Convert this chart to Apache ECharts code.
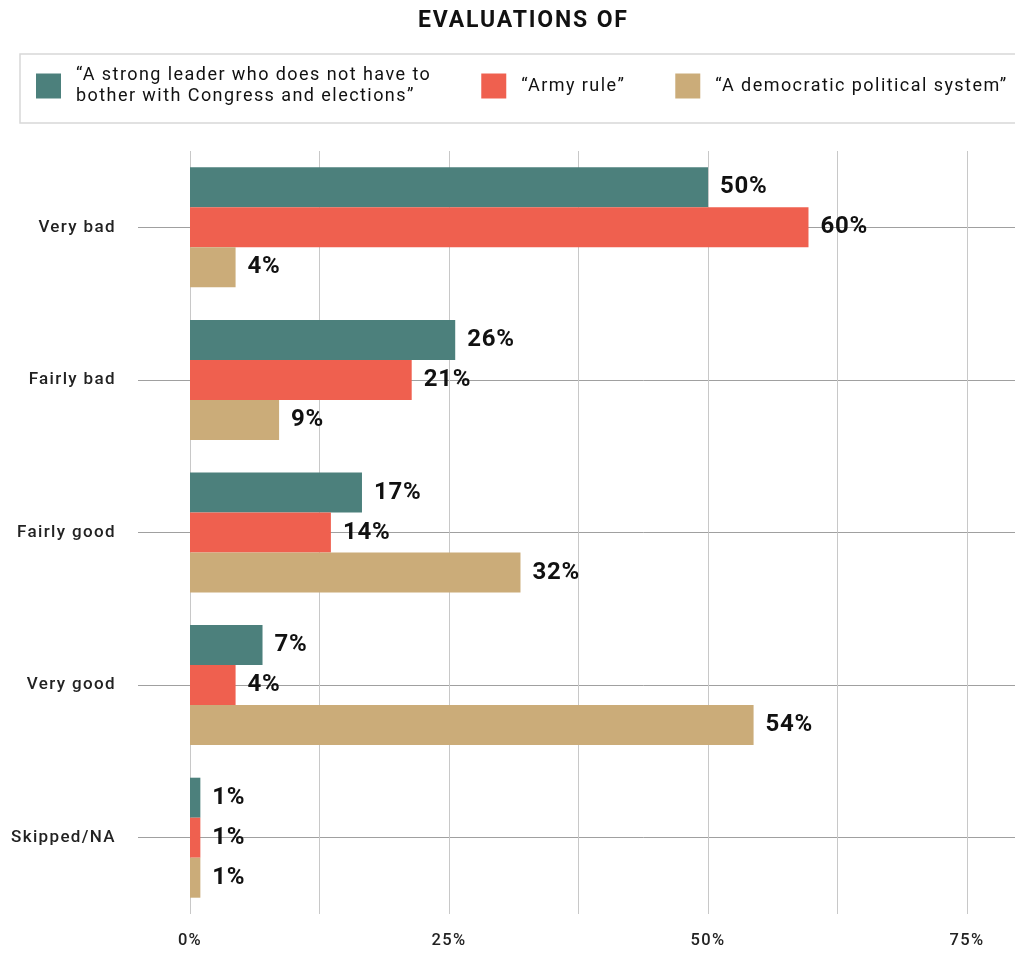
<!DOCTYPE html>
<html>
<head>
<meta charset="utf-8">
<style>
  html, body { margin: 0; padding: 0; background: #fff; overflow: hidden; width: 1015px; height: 953px; }
  #chart { width: 1100px; height: 953px; }
</style>
<script src="https://cdn.jsdelivr.net/npm/echarts@6/dist/echarts.min.js"></script>
</head>
<body>
<div id="chart"></div>
<script>
// slight tracking like the reference typography (less on the big value labels)
(function () {
  var P = window.CanvasRenderingContext2D && CanvasRenderingContext2D.prototype;
  if (!P || !('letterSpacing' in P)) return;
  function apply(ctx) {
    var m = /(\d+(?:\.\d+)?)px/.exec(ctx.font);
    var s = m ? parseFloat(m[1]) : 12;
    var k = s >= 24 ? 0.03 : 0.08;
    ctx.letterSpacing = (s * k).toFixed(2) + 'px';
  }
  var ft = P.fillText, st = P.strokeText, mt = P.measureText;
  P.fillText = function () { apply(this); return ft.apply(this, arguments); };
  P.strokeText = function () { apply(this); return st.apply(this, arguments); };
  P.measureText = function () { apply(this); return mt.apply(this, arguments); };
})();

var titleText = 'EVALUATIONS OF';
var categories = ['Very bad', 'Fairly bad', 'Fairly good', 'Very good', 'Skipped/NA'];
var seriesNames = [
  '\u201CA strong leader who does not have to bother with Congress and elections\u201D',
  '\u201CArmy rule\u201D',
  '\u201CA democratic political system\u201D'
];
var legendLabels = [
  '\u201CA strong leader who does not have to\nbother with Congress and elections\u201D',
  '\u201CArmy rule\u201D',
  '\u201CA democratic political system\u201D'
];
var strongLeader = [50, 25.6, 16.6, 7.0, 1.0];
var armyRule = [59.7, 21.4, 13.6, 4.4, 1.0];
var democratic = [4.4, 8.6, 31.9, 54.4, 1.0];
var xTickLabels = [0, 25, 50, 75];

var colors = ['#4C807C', '#EF604F', '#CBAC79'];
var FONT = 'Roboto, "Noto Sans", sans-serif';

var chart = echarts.init(document.getElementById('chart'), null, { renderer: 'canvas' });

function barSeries(name, data, color) {
  return {
    name: name,
    type: 'bar',
    data: data,
    barWidth: 40,
    barGap: '0%',
    itemStyle: { color: color },
    label: {
      show: true,
      position: 'right',
      distance: 12,
      fontFamily: FONT,
      fontSize: 24,
      fontWeight: 'bold',
      color: '#111',
      formatter: function (p) { return Math.round(p.value) + '%'; }
    }
  };
}

chart.setOption({
  animation: false,
  color: colors,
  title: {
    text: titleText,
    left: 418,
    top: 9,
    padding: 0,
    textStyle: { fontFamily: FONT, fontSize: 23, fontWeight: 'bold', color: '#111' }
  },
  graphic: [{
    type: 'rect',
    shape: { x: 20, y: 54, width: 1060, height: 69 },
    style: { fill: 'none', stroke: '#d8d8d8', lineWidth: 1.5 },
    silent: true
  }],
  legend: {
    left: 36,
    top: 65,
    padding: 0,
    itemGap: 50,
    itemWidth: 25,
    itemHeight: 25,
    icon: 'rect',
    selectedMode: false,
    data: seriesNames,
    formatter: function (name) { return legendLabels[seriesNames.indexOf(name)]; },
    textStyle: {
      fontFamily: FONT,
      fontSize: 18,
      lineHeight: 21,
      color: '#111',
      padding: [0, 0, 0, 10]
    }
  },
  grid: { left: 190, top: 151, bottom: 39, width: 906.5, containLabel: false },
  xAxis: {
    type: 'value',
    min: 0,
    max: 87.5,
    interval: 12.5,
    axisLine: { show: false },
    axisTick: { show: false },
    splitLine: { show: true, lineStyle: { color: '#c8c8c8', width: 1 } },
    axisLabel: {
      margin: 18,
      fontFamily: FONT,
      fontSize: 16.5,
      fontWeight: 500,
      color: '#222',
      formatter: function (v) { return xTickLabels.indexOf(v) >= 0 ? v + '%' : ''; }
    }
  },
  yAxis: {
    type: 'category',
    inverse: true,
    data: categories,
    axisLine: { show: false },
    axisTick: { show: true, alignWithLabel: true, length: 52, lineStyle: { color: '#a0a0a0', width: 1 } },
    splitLine: { show: true, alignWithLabel: true, lineStyle: { color: '#a0a0a0', width: 1 } },
    axisLabel: {
      margin: 74,
      fontFamily: FONT,
      fontSize: 17,
      fontWeight: 500,
      color: '#222'
    }
  },
  series: [
    barSeries(seriesNames[0], strongLeader, colors[0]),
    barSeries(seriesNames[1], armyRule, colors[1]),
    barSeries(seriesNames[2], democratic, colors[2])
  ]
});
</script>
</body>
</html>
